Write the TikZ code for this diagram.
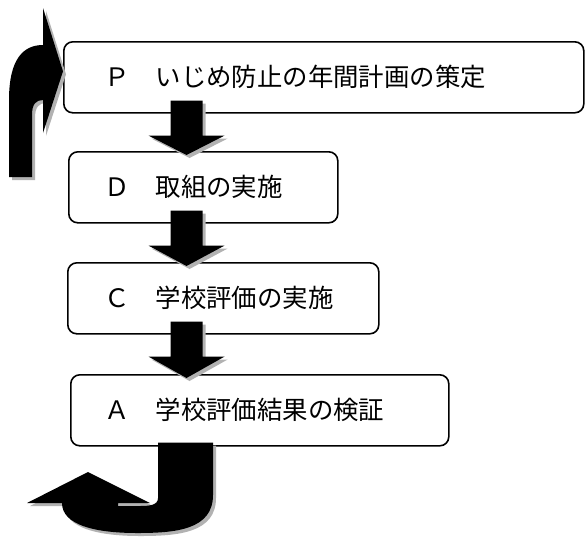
\documentclass[tikz,border=0pt]{standalone}
\usepackage{fontspec}
\newfontfamily\jpfont{Noto Sans CJK JP}
\usepackage{tikz}
\usetikzlibrary{calc,shadows}

% fat arrow from the bottom of one box into the top of the next
\newcommand{\stagearrow}[2]{%
  \fill[blockarrow] ($(flowaxis |- #1.south)+(-16,-13)$) -- ($(flowaxis |- #1.south)+(16,-13)$)
    -- ($(flowaxis |- #1.south)+(16,22)$) -- ($(flowaxis |- #1.south)+(38,22)$)
    -- ($(flowaxis |- #2.north)+(0,4)$)
    -- ($(flowaxis |- #1.south)+(-38,22)$) -- ($(flowaxis |- #1.south)+(-16,22)$) -- cycle;}

\tikzset{
  stage/.style={draw, line width=1.6pt, rounded corners=9pt, fill=white, anchor=north west,
    minimum height=71pt, inner xsep=0pt, inner ysep=0pt, align=left,
    font=\jpfont\fontsize{25.4}{30}\selectfont},
  blockarrow/.style={fill=black, drop shadow={shadow xshift=3pt, shadow yshift=-3pt, fill=black!30, opacity=1}},
}

\begin{document}
\begin{tikzpicture}[x=1pt, y=-1pt]
    \useasboundingbox (0,0) rectangle (586,539);
    % PDCA Boxes
    \node[stage, text width=520pt] (P) at (63,41) {\hspace*{41pt}Ｐ　いじめ防止の年間計画の策定};
    \node[stage, text width=269pt] (D) at (68,151) {\hspace*{36pt}Ｄ　取組の実施};
    \node[stage, text width=311pt] (C) at (67,262) {\hspace*{37pt}Ｃ　学校評価の実施};
    \node[stage, text width=378pt] (A) at (70,374) {\hspace*{34pt}Ａ　学校評価結果の検証};
    %
    % Arrows Between the Steps:
    \coordinate (flowaxis) at (186.5,0);
    \stagearrow{P}{D}
    \stagearrow{D}{C}
    \stagearrow{C}{A}
    % Return Arrows
    \fill[blockarrow] (9,177) -- (9,100) .. controls (9,58) and (24,45) .. (43,45) -- (43,8)
      -- ($(P.west)+(0,-6)$) -- (43,133) -- (43,100) .. controls (36,100) and (32,104) .. (32,115)
      -- (32,177) -- cycle;
    \fill[blockarrow] ($(A.south west)+(88,-4)$) -- (158,498) .. controls (158,505) and (150,506) .. (140,506)
      -- (118,506) -- (118,503) -- (150,503) -- (88,472) -- (27,503) -- (62,503)
      .. controls (62,525) and (95,533) .. (137,533) .. controls (175,533) and (213,530) .. (213,495)
      -- ($(A.south west)+(143,-4)$) -- cycle;
\end{tikzpicture}
\end{document}
